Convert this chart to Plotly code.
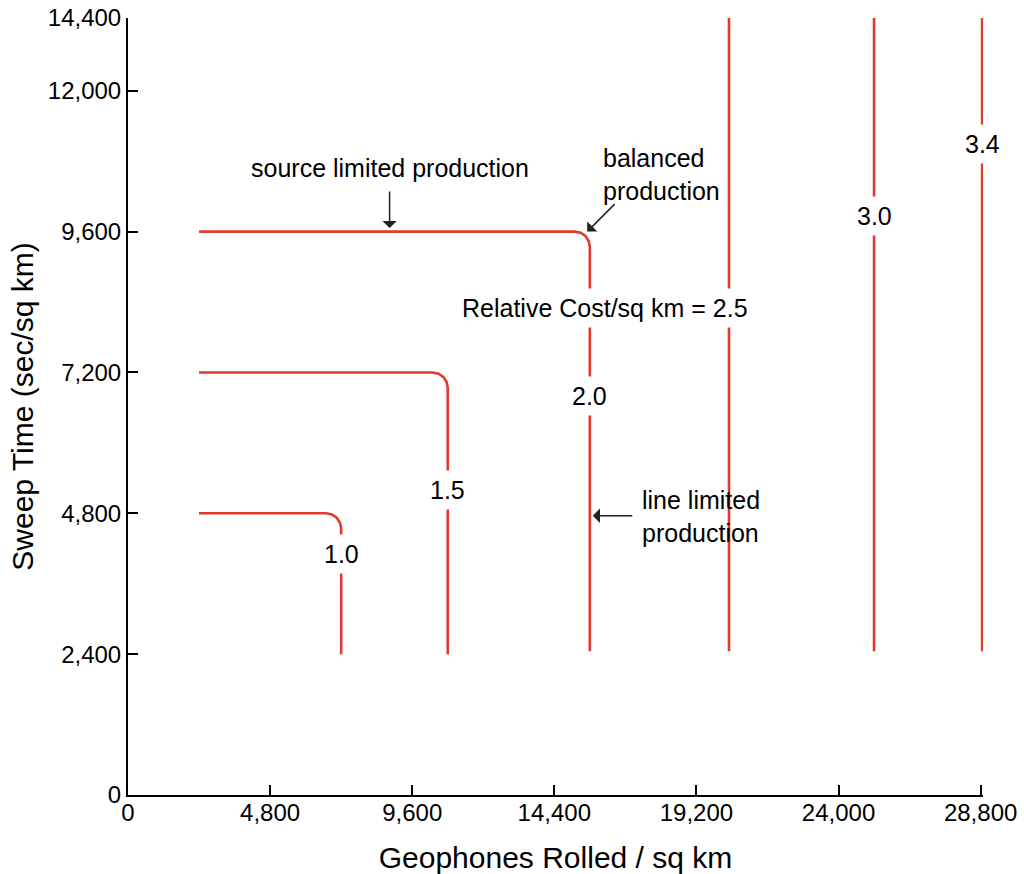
import plotly.graph_objects as go

# ---- data ----
x_ticks = [0, 4800, 9600, 14400, 19200, 24000, 28800]
x_ticktext = ["0", "4,800", "9,600", "14,400", "19,200", "24,000", "28,800"]
y_top = 13240  # top of the drawn axis (labelled 14,400 in the reference)
y_ticks = [0, 2400, 4800, 7200, 9600, 12000, y_top]
y_ticktext = ["0", "2,400", "4,800", "7,200", "9,600", "12,000", "14,400"]

# cost curves: horizontal (source limited) part, rounded corner, vertical (line limited) part
cost_1_0_x = [2400, 6690, 6890, 7050, 7160, 7200, 7200]
cost_1_0_y = [4800, 4800, 4780, 4725, 4640, 4545, 2400]
cost_1_5_x = [2400, 10290, 10490, 10650, 10760, 10800, 10800]
cost_1_5_y = [7200, 7200, 7180, 7125, 7040, 6945, 2400]
cost_2_0_x = [2400, 15090, 15290, 15450, 15560, 15600, 15600]
cost_2_0_y = [9600, 9600, 9580, 9525, 9440, 9345, 2450]
cost_2_5_x = [20300, 20300]
cost_2_5_y = [2450, y_top]
cost_3_0_x = [25200, 25200]
cost_3_0_y = [2450, y_top]
cost_3_4_x = [28850, 28850]
cost_3_4_y = [2450, y_top]

curves = [
    (cost_1_0_x, cost_1_0_y),
    (cost_1_5_x, cost_1_5_y),
    (cost_2_0_x, cost_2_0_y),
    (cost_2_5_x, cost_2_5_y),
    (cost_3_0_x, cost_3_0_y),
    (cost_3_4_x, cost_3_4_y),
]

# curve labels (text, x, y)
label_text = ["1.0", "1.5", "2.0", "Relative Cost/sq km = 2.5", "3.0", "3.4"]
label_x = [7200, 10800, 15600, 16100, 25200, 28850]
label_y = [4100, 5200, 6800, 8300, 9860, 11090]

RED = "#e03a2e"
FONT = "Liberation Sans, Arial, Helvetica, sans-serif"
TXT = 25

fig = go.Figure()
for cx, cy in curves:
    fig.add_trace(go.Scatter(
        x=cx, y=cy, mode="lines",
        line=dict(color=RED, width=2.6),
        hoverinfo="skip", showlegend=False,
    ))

annotations = []
for t, lx, ly in zip(label_text, label_x, label_y):
    annotations.append(dict(
        x=lx, y=ly, xref="x", yref="y", text=t, showarrow=False,
        font=dict(family=FONT, size=TXT, color="black"),
        bgcolor="white", borderpad=5,
    ))

# descriptive notes
annotations += [
    dict(x=8837, y=10678, xref="x", yref="y", text="source limited production",
         showarrow=False, font=dict(family=FONT, size=TXT, color="black")),
    dict(x=15960, y=10576, xref="x", yref="y", text="balanced<br>production",
         showarrow=False, xanchor="left", align="left",
         font=dict(family=FONT, size=TXT, color="black")),
    dict(x=17306, y=4742, xref="x", yref="y", text="line limited<br>production",
         showarrow=False, xanchor="left", align="left",
         font=dict(family=FONT, size=TXT, color="black")),
    # arrows
    dict(x=8837, y=9660, xref="x", yref="y", text="", showarrow=True,
         ax=0, ay=-38, arrowhead=1, arrowsize=1.6, arrowwidth=1.5, arrowcolor="#222"),
    dict(x=15510, y=9600, xref="x", yref="y", text="", showarrow=True,
         ax=29, ay=-29, arrowhead=1, arrowsize=1.6, arrowwidth=1.5, arrowcolor="#222"),
    dict(x=15700, y=4759, xref="x", yref="y", text="", showarrow=True,
         ax=41, ay=0, arrowhead=1, arrowsize=1.6, arrowwidth=1.5, arrowcolor="#222"),
]

fig.update_layout(
    width=1024, height=874,
    margin=dict(l=128, r=41, t=18, b=79),
    paper_bgcolor="white", plot_bgcolor="white",
    showlegend=False,
    annotations=annotations,
    font=dict(family=FONT, color="black"),
)
fig.update_xaxes(
    range=[0, 28880], tickvals=x_ticks, ticktext=x_ticktext,
    ticks="inside", ticklen=10, tickwidth=2, tickcolor="black",
    showline=True, linecolor="black", linewidth=2,
    showgrid=False, zeroline=False, automargin=False,
    ticklabelstandoff=-5, ticklabeloverflow="allow",
    tickfont=dict(family=FONT, size=24, color="black"),
    title=dict(text="Geophones Rolled / sq km", font=dict(family=FONT, size=30, color="black"), standoff=24),
)
fig.update_yaxes(
    range=[0, y_top], tickvals=y_ticks, ticktext=y_ticktext,
    ticks="inside", ticklen=10, tickwidth=2, tickcolor="black",
    showline=True, linecolor="black", linewidth=2,
    showgrid=False, zeroline=False, automargin=False,
    ticklabeloverflow="allow",
    tickfont=dict(family=FONT, size=24, color="black"),
    title=dict(text="Sweep Time (sec/sq km)", font=dict(family=FONT, size=30, color="black"), standoff=5),
)

# remove the browser's default 8px body margin so the figure fills the window exactly
fig.write_html("out.html", config={"displayModeBar": False},
               post_script="document.body.style.margin='0';")
